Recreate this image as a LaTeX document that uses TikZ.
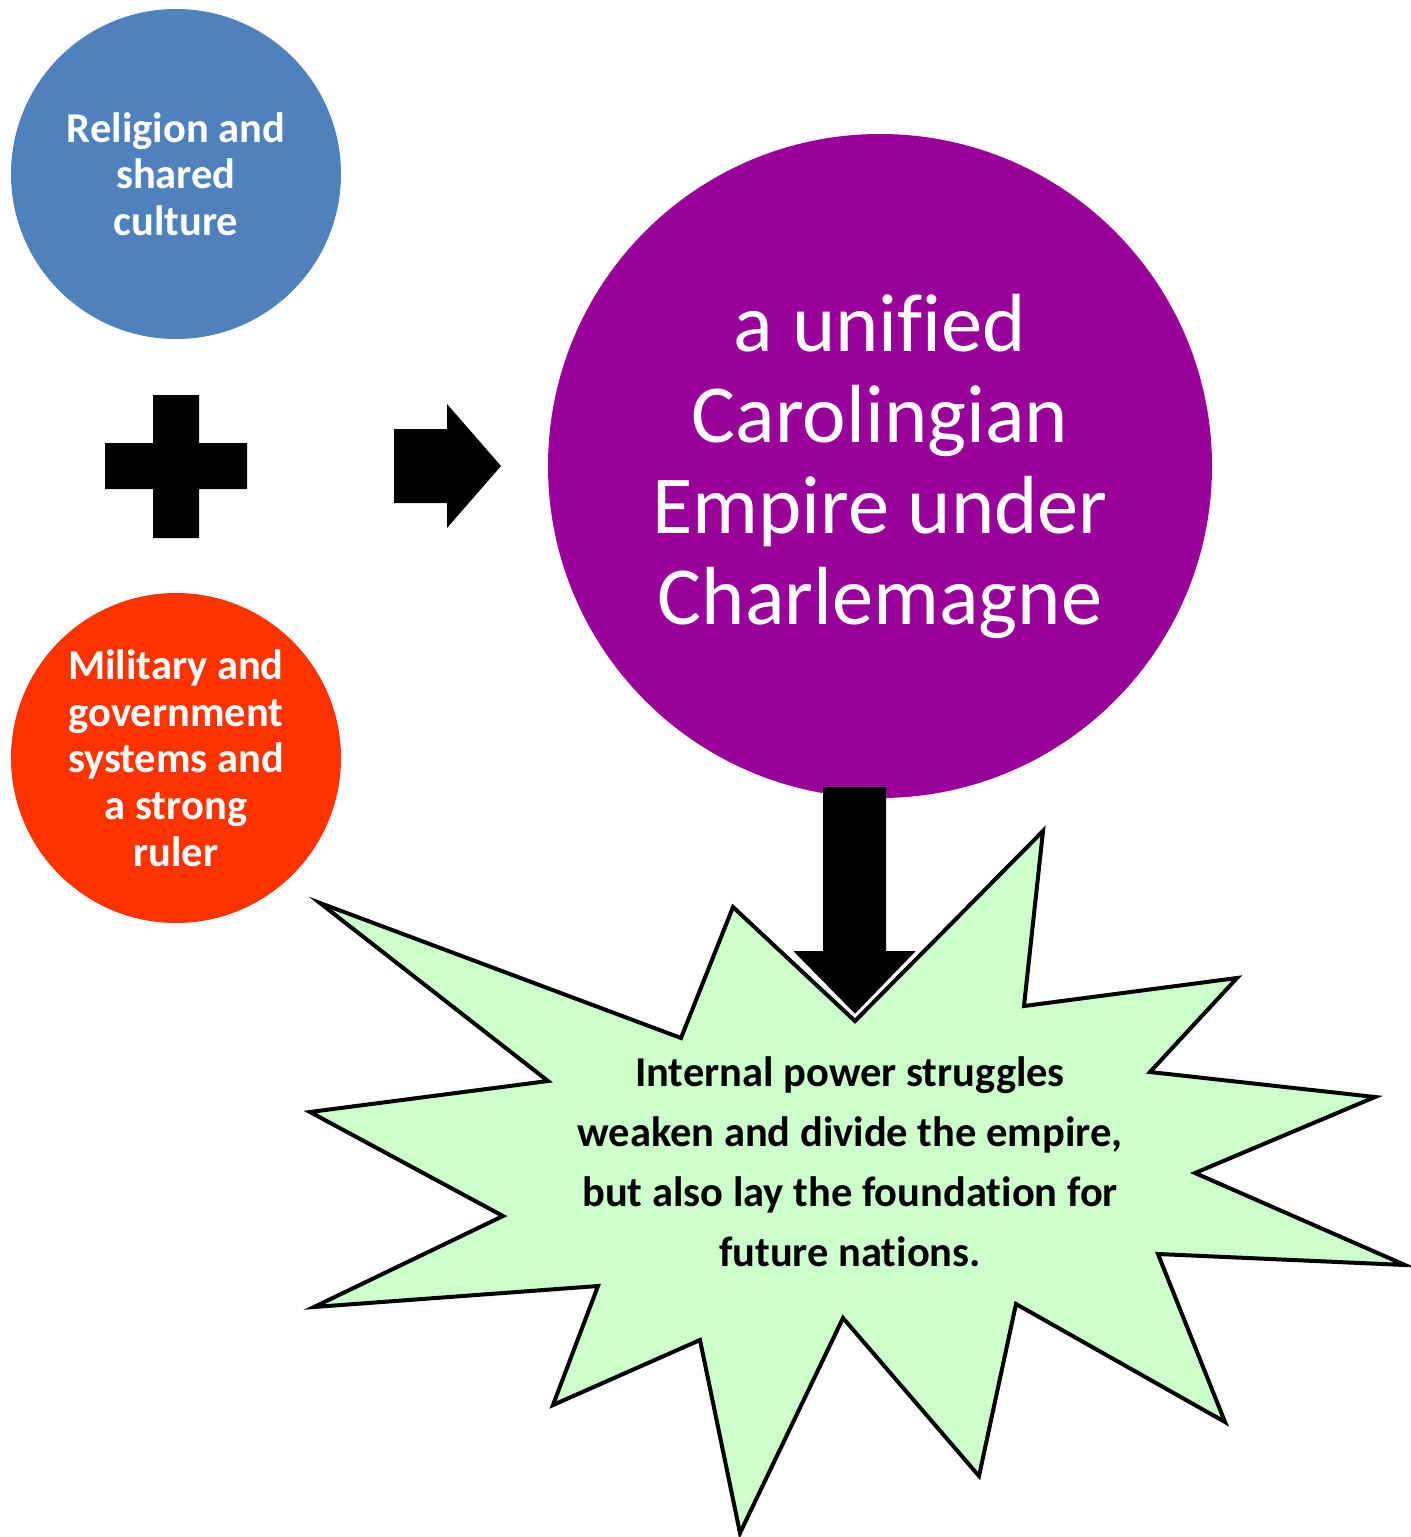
\documentclass[tikz,border=0pt]{standalone}
\usepackage{fontspec}
\setmainfont[Ligatures=NoCommon]{Carlito}
\definecolor{cblue}{HTML}{4F81BD}
\definecolor{cred}{HTML}{FF3300}
\definecolor{cpurple}{HTML}{990099}
\definecolor{cgreen}{HTML}{CCFFCC}
\begin{document}
\begin{tikzpicture}[x=1pt,y=-1pt,
  smallcirc/.style={circle, inner sep=0pt, minimum size=330pt, text=white, align=center,
     font=\fontsize{42.5}{46.7}\selectfont\bfseries},
  bigcirc/.style={circle, inner sep=0pt, minimum size=664pt, text=white, align=center,
     font=\fontsize{82.5}{91}\selectfont},
  startext/.style={align=center, text=black, font=\fontsize{42.5}{60}\selectfont\bfseries},
  shapefill/.style={fill=black}]
\useasboundingbox (0,0) rectangle (1411,1537);

% circles
\node[smallcirc, fill=cblue] (religion) at (176,174) {Religion and\\shared\\culture};
\node[smallcirc, fill=cred] (military) at (176,758) {Military and\\government\\systems and\\a strong\\ruler};
\node[bigcirc, fill=cpurple] (empire) at (880,466) {a unified\\Carolingian\\Empire under\\Charlemagne};

% plus sign
\fill[shapefill] (153,395) -- (199,395) -- (199,443) -- (247,443) -- (247,489) -- (199,489)
  -- (199,538) -- (153,538) -- (153,489) -- (105,489) -- (105,443) -- (153,443) -- cycle;

% right arrow
\fill[shapefill] (394,429) -- (447,429) -- (447,404) -- (501,466) -- (447,528) -- (447,503)
  -- (394,503) -- cycle;

% starburst
\draw[fill=cgreen, line width=4pt, line join=miter]
  (320,903) -- (681,1038) -- (733,907) -- (855,1021) -- (1043,831) -- (1024,1006)
  -- (1237,978) -- (1150,1072) -- (1375,1097) -- (1195,1173) -- (1405,1265)
  -- (1158,1254) -- (1225,1422) -- (1016,1304) -- (979,1476) -- (843,1318)
  -- (740,1533) -- (700,1340) -- (553,1405) -- (598,1286) -- (314,1307)
  -- (503,1216) -- (310,1112) -- (548,1081) -- cycle;

% down arrow
\fill[shapefill] (823,787) -- (886,787) -- (886,951) -- (917,951) -- (855,1015) -- (792,951)
  -- (823,951) -- cycle;
\draw[white, line width=1.5pt] (792,951) -- (855,1015) -- (917,951);

\node[startext] (result) at (850,1162) {Internal power struggles\\weaken and divide the empire,\\but also lay the foundation for\\future nations.};
\end{tikzpicture}
\end{document}
